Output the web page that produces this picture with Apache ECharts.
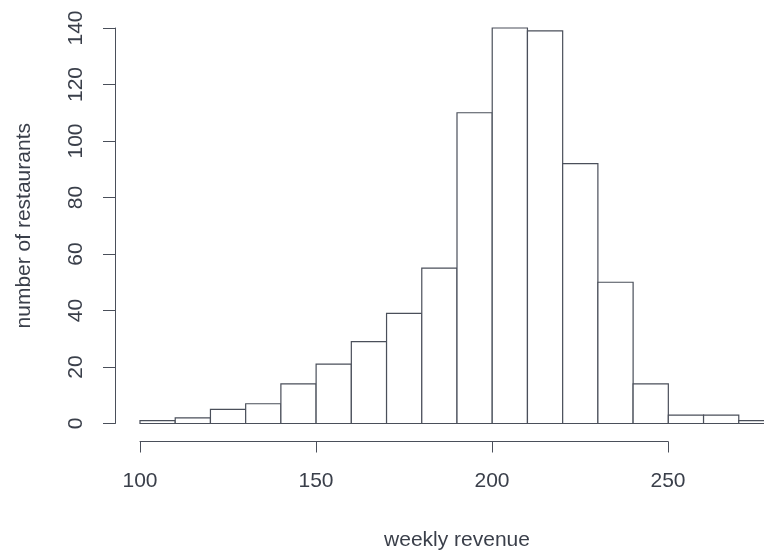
<!DOCTYPE html>
<html>
<head>
<meta charset="utf-8">
<script src="https://cdn.jsdelivr.net/npm/echarts@6/dist/echarts.min.js"></script>
<style>
html,body{margin:0;padding:0;background:#fff;}
#chart{width:764px;height:551px;}
</style>
</head>
<body>
<div id="chart"></div>
<script>
// Histogram data: bin edges (weekly revenue) and counts
var binStarts = [100,110,120,130,140,150,160,170,180,190,200,210,220,230,240,250,260,270];
var binWidth = 10;
var counts = [1,2,5,7,14,21,29,39,55,110,140,139,92,50,14,3,3,1];
var xTickValues = [100,150,200,250];
var yTickValues = [0,20,40,60,80,100,120,140];
var xTitle = 'weekly revenue';
var yTitle = 'number of restaurants';

var bins = binStarts.map(function(s, i){ return [s, s + binWidth, counts[i]]; });

var textColor = '#3a3f4a';
var lineColor = '#4a4f5a';
var font = 'Liberation Sans, Arial, sans-serif';

var chart = echarts.init(document.getElementById('chart'));
chart.setOption({
  animation: false,
  backgroundColor: '#ffffff',
  grid: [
    {left: 140, width: 634, top: 28, height: 395.5, containLabel: false, outerBoundsMode: 'none'},
    {left: 140, width: 528, top: 441.5, height: 0, containLabel: false, outerBoundsMode: 'none'}
  ],
  xAxis: [
    {
      gridIndex: 0, type: 'value', min: 100, max: 280,
      axisLine: {show: false}, axisTick: {show: false}, axisLabel: {show: false}, splitLine: {show: false},
      name: xTitle, nameLocation: 'middle', nameGap: 106,
      nameTextStyle: {color: textColor, fontSize: 21, fontFamily: font}
    },
    {
      gridIndex: 1, type: 'value', min: 100, max: 250, interval: 50,
      axisLine: {show: true, lineStyle: {color: lineColor, width: 1}},
      axisTick: {show: true, inside: false, length: 11, lineStyle: {color: lineColor, width: 1}},
      axisLabel: {show: true, margin: 29, color: textColor, fontSize: 21, fontFamily: font,
        formatter: function(v){ return xTickValues.indexOf(v) >= 0 ? String(v) : ''; }},
      splitLine: {show: false}
    }
  ],
  yAxis: [
    {
      gridIndex: 0, type: 'value', min: 0, max: 140, interval: 20, offset: 25,
      axisLine: {show: true, lineStyle: {color: lineColor, width: 1}},
      axisTick: {show: true, inside: false, length: 12, lineStyle: {color: lineColor, width: 1}},
      axisLabel: {show: true, rotate: 90, margin: 28, color: textColor, fontSize: 21, fontFamily: font,
        formatter: function(v){ return yTickValues.indexOf(v) >= 0 ? String(v) : ''; }},
      splitLine: {show: false},
      name: yTitle, nameLocation: 'middle', nameGap: 80, nameRotate: 90,
      nameTextStyle: {color: textColor, fontSize: 21, fontFamily: font}
    },
    {
      gridIndex: 1, type: 'value', show: false
    }
  ],
  series: [{
    type: 'custom',
    xAxisIndex: 0, yAxisIndex: 0,
    clip: false,
    data: bins,
    renderItem: function(params, api){
      var p0 = api.coord([api.value(0), api.value(2)]);
      var p1 = api.coord([api.value(1), 0]);
      return {
        type: 'rect',
        shape: {x: p0[0], y: p0[1], width: p1[0] - p0[0], height: p1[1] - p0[1]},
        style: {fill: '#ffffff', stroke: lineColor, lineWidth: 1.2}
      };
    }
  }]
});
</script>
</body>
</html>
